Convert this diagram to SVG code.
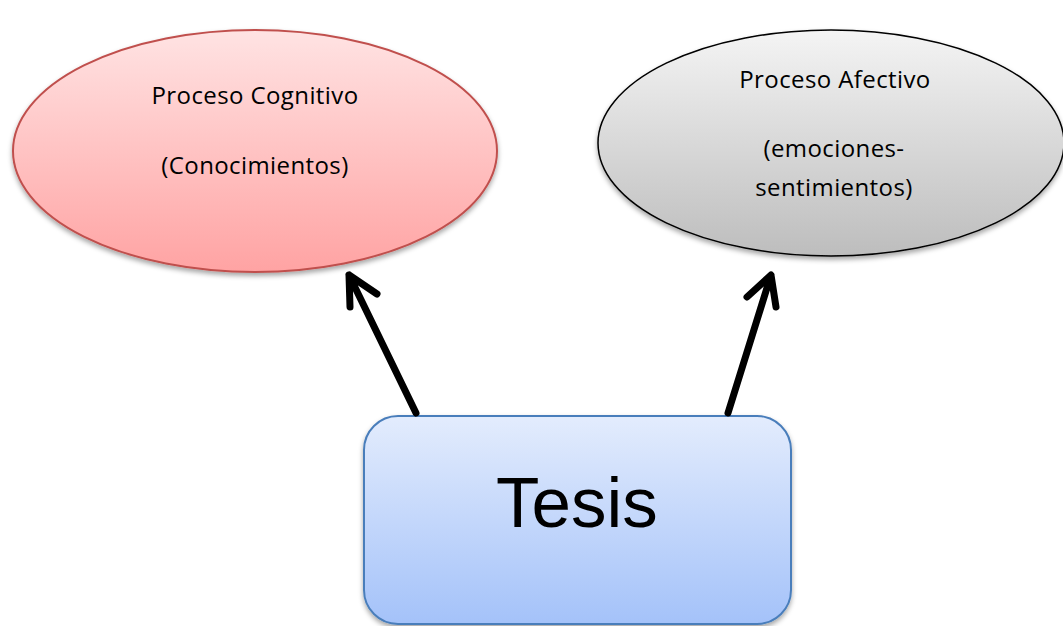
<svg xmlns="http://www.w3.org/2000/svg" width="1063" height="626" viewBox="0 0 1063 626">
<defs>
<linearGradient id="gRed" x1="0" y1="0" x2="0" y2="1">
<stop offset="0" stop-color="#ffe3e3"/>
<stop offset="1" stop-color="#ffa3a3"/>
</linearGradient>
<linearGradient id="gGray" x1="0" y1="0" x2="0" y2="1">
<stop offset="0" stop-color="#f4f4f4"/>
<stop offset="1" stop-color="#bdbdbd"/>
</linearGradient>
<linearGradient id="gBlue" x1="0" y1="0" x2="0" y2="1">
<stop offset="0" stop-color="#e3ecfd"/>
<stop offset="1" stop-color="#a4c2f9"/>
</linearGradient>
<filter id="sh" x="-10%" y="-10%" width="120%" height="125%">
<feDropShadow dx="0" dy="3" stdDeviation="2.5" flood-color="#000" flood-opacity="0.35"/>
</filter>
</defs>
<style>
.lbl{font-family:"Open Sans","Liberation Sans",sans-serif;font-size:24px;letter-spacing:0.4px;fill:#000;text-anchor:middle}
.big{font-family:"Liberation Sans",Arial,sans-serif;font-size:71px;fill:#000;text-anchor:middle}
.arr{fill:none;stroke:#000;stroke-width:7;stroke-linecap:round;stroke-linejoin:round}
</style>
<rect width="1063" height="626" fill="#fff"/>
<g id="cognitivo">
<ellipse cx="255" cy="151" rx="242" ry="121" fill="url(#gRed)" stroke="#c0504d" stroke-width="2" filter="url(#sh)"/>
<text class="lbl" x="255" y="104">Proceso Cognitivo</text>
<text class="lbl" x="255" y="174">(Conocimientos)</text>
</g>
<g id="afectivo">
<ellipse cx="831" cy="143" rx="233" ry="113" fill="url(#gGray)" stroke="#000" stroke-width="1.5" filter="url(#sh)"/>
<text class="lbl" x="835" y="88">Proceso Afectivo</text>
<text class="lbl" x="834" y="157">(emociones-</text>
<text class="lbl" x="834" y="196">sentimientos)</text>
</g>
<g id="tesis">
<rect x="364" y="416" width="427" height="208" rx="34" fill="url(#gBlue)" stroke="#4a7ebb" stroke-width="2" filter="url(#sh)"/>
<text class="big" x="577" y="527">Tesis</text>
</g>
<g id="connectors">
<path class="arr" d="M416,413 L349,275 M350,307 L349,275 L377,294"/>
<path class="arr" d="M728,413 L771,275 M747,297 L771,275 L776,307"/>
</g>
</svg>
